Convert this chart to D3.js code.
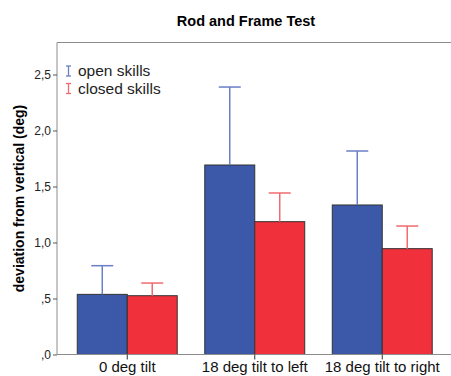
<!DOCTYPE html>
<html>
<head>
<meta charset="utf-8">
<style>
  body { margin: 0; background: #fff; }
  svg { display: block; font-family: Arial, 'Liberation Sans', sans-serif; }
</style>
</head>
<body>
<svg width="451" height="376"></svg>
<script src="https://d3js.org/d3.v7.min.js"></script>
<script>
// data
const conditions = ["0 deg tilt", "18 deg tilt to left", "18 deg tilt to right"];
const groups = ["open skills", "closed skills"];
const openMeans = [0.537, 1.692, 1.335];
const openUpper = [0.793, 2.388, 1.817];
const closedMeans = [0.525, 1.186, 0.945];
const closedUpper = [0.638, 1.442, 1.147];
const yTicks = [0, 0.5, 1.0, 1.5, 2.0, 2.5];

const fills = { "open skills": "#3c58a8", "closed skills": "#f0303a" };
const errColors = { "open skills": "#6a7fc6", "closed skills": "#f26a6f" };

const rows = [];
conditions.forEach((c, i) => {
  rows.push({ cond: c, group: "open skills", mean: openMeans[i], upper: openUpper[i] });
  rows.push({ cond: c, group: "closed skills", mean: closedMeans[i], upper: closedUpper[i] });
});

const svg = d3.select("svg");
const plotLeft = 57, plotTop = 42.5, plotBottom = 354.5, plotRight = 451;

const x = d3.scaleBand()
  .domain(conditions)
  .range([63.5, 446])
  .paddingInner(0.216)
  .paddingOuter(0.108);

const xg = d3.scaleBand()
  .domain(groups)
  .range([0, x.bandwidth()]);

const y = d3.scaleLinear()
  .domain([0, 2.5])
  .range([plotBottom, plotBottom - 280]);

// frame
svg.append("line")
  .attr("x1", plotLeft).attr("x2", plotRight)
  .attr("y1", plotTop).attr("y2", plotTop)
  .attr("stroke", "#8c8c8c");

// title
svg.append("text")
  .attr("x", 246).attr("y", 26)
  .attr("text-anchor", "middle")
  .attr("font-weight", "bold")
  .attr("font-size", "14.5px")
  .text("Rod and Frame Test");

// y axis
const yAxis = svg.append("g")
  .attr("transform", `translate(${plotLeft},0)`)
  .call(d3.axisLeft(y).tickValues(yTicks).tickSize(4).tickPadding(2)
    .tickFormat(d => d3.format(".1f")(d).replace(".", ",").replace(/^0/, "")));
yAxis.select(".domain").attr("d", `M0,${plotTop}V${plotBottom}`).attr("stroke", "#8c8c8c");
yAxis.selectAll(".tick line").attr("stroke", "#555");
yAxis.selectAll(".tick text").attr("font-size", "12px").attr("fill", "#222")
  .attr("font-family", "Arial, 'Liberation Sans', sans-serif");

svg.append("text")
  .attr("transform", `translate(24,${(plotTop + plotBottom) / 2}) rotate(-90)`)
  .attr("text-anchor", "middle")
  .attr("font-weight", "bold")
  .attr("font-size", "14px")
  .text("deviation from vertical (deg)");

// bars
const bars = svg.append("g");
bars.selectAll("rect")
  .data(rows)
  .join("rect")
  .attr("x", d => x(d.cond) + xg(d.group))
  .attr("y", d => y(d.mean))
  .attr("width", xg.bandwidth())
  .attr("height", d => y(0) - y(d.mean))
  .attr("fill", d => fills[d.group])
  .attr("stroke", "#333")
  .attr("stroke-width", 1);

// error bars (upper only)
const errs = svg.append("g");
rows.forEach(d => {
  const cx = x(d.cond) + xg(d.group) + xg.bandwidth() / 2;
  errs.append("line")
    .attr("x1", cx).attr("x2", cx)
    .attr("y1", y(d.mean)).attr("y2", y(d.upper))
    .attr("stroke", errColors[d.group]).attr("stroke-width", 1.5);
  errs.append("line")
    .attr("x1", cx - 11).attr("x2", cx + 11)
    .attr("y1", y(d.upper)).attr("y2", y(d.upper))
    .attr("stroke", errColors[d.group]).attr("stroke-width", 1.5);
});

// x axis
const xAxis = svg.append("g")
  .attr("transform", `translate(0,${plotBottom})`)
  .call(d3.axisBottom(x).tickSize(5).tickPadding(2));
xAxis.select(".domain").attr("d", `M${plotLeft},0H${plotRight}`).attr("stroke", "#8c8c8c");
xAxis.selectAll(".tick line").attr("stroke", "#333");
xAxis.selectAll(".tick text").attr("font-size", "15px").attr("fill", "#111")
  .attr("font-family", "Arial, 'Liberation Sans', sans-serif");

// legend
const legend = svg.append("g");
groups.forEach((g, i) => {
  const ly = 71 + i * 17.5;
  const lg = legend.append("g").attr("stroke", errColors[g]).attr("stroke-width", 1.3);
  lg.append("line").attr("x1", 68.5).attr("x2", 68.5).attr("y1", ly - 5).attr("y2", ly + 5);
  lg.append("line").attr("x1", 66).attr("x2", 71).attr("y1", ly - 5).attr("y2", ly - 5);
  lg.append("line").attr("x1", 66).attr("x2", 71).attr("y1", ly + 5).attr("y2", ly + 5);
  legend.append("text")
    .attr("x", 78).attr("y", ly + 5)
    .attr("font-size", "15.5px")
    .attr("fill", "#222")
    .text(g);
});
</script>
</body>
</html>
